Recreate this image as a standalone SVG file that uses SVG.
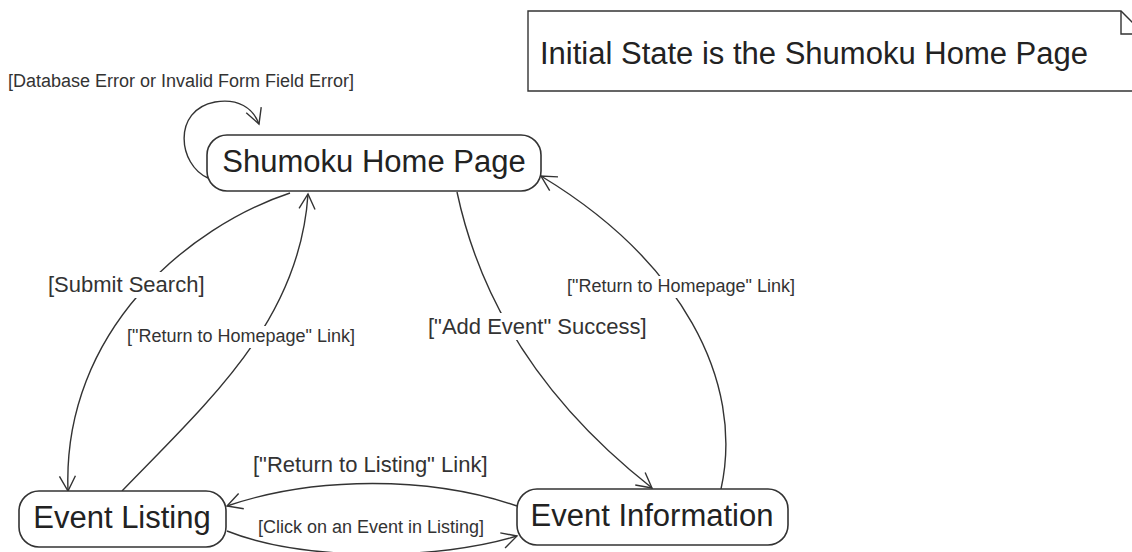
<svg xmlns="http://www.w3.org/2000/svg" width="1132" height="552" viewBox="0 0 1132 552">
<defs>
<style>
.node{fill:#fff;stroke:#333;stroke-width:1.6}
.ntext{font-family:"Liberation Sans",Arial,sans-serif;font-size:31px;fill:#222;text-anchor:middle}
.edge{fill:none;stroke:#333;stroke-width:1.4;marker-end:url(#arr)}
.lbl{font-family:"Liberation Sans",Arial,sans-serif;fill:#333}
.s18{font-size:18px}
.s22{font-size:22px}
.bg{fill:#fff}
</style>
<marker id="arr" markerUnits="userSpaceOnUse" markerWidth="18" markerHeight="18" viewBox="0 0 18 18" refX="16" refY="9" orient="auto">
<path d="M1,1 L16,9 L1,17" fill="none" stroke="#333" stroke-width="1.4"/>
</marker>
</defs>
<rect width="1132" height="552" fill="#fff"/>

<g id="note">
<path d="M528,11 H1121 L1144,34 V91 H528 Z" fill="#fff" stroke="#333" stroke-width="1.4"/>
<path d="M1121,11 V34 H1144" fill="none" stroke="#333" stroke-width="1.4"/>
<text x="540" y="64" class="lbl" style="font-size:31px;fill:#222">Initial State is the Shumoku Home Page</text>
</g>

<g id="connectors">
<path class="edge" d="M208,178 C178,165 172,110 215,102 C238,98 253,108 259,124"/>
<path class="edge" d="M290,193 C190,226 62,330 68,491"/>
<path class="edge" d="M122,491 C210,400 300,320 308,194"/>
<path class="edge" d="M517,506 C430,476 315,476 227,506"/>
<path class="edge" d="M227,531 C305,562 440,560 517,536"/>
<path class="edge" d="M457,192 C480,300 540,400 652,488"/>
<path class="edge" d="M721,489 C745,380 680,260 541,176"/>
</g>

<g id="labels">
<text x="8" y="87" class="lbl s18">[Database Error or Invalid Form Field Error]</text>
<rect class="bg" x="44" y="272" width="166" height="26"/>
<text x="48" y="292" class="lbl s22">[Submit Search]</text>
<rect class="bg" x="124" y="326" width="232" height="22"/>
<text x="127" y="342" class="lbl s18">["Return to Homepage" Link]</text>
<rect class="bg" x="424" y="313" width="226" height="27"/>
<text x="428" y="334" class="lbl s22">["Add Event" Success]</text>
<rect class="bg" x="564" y="276" width="232" height="22"/>
<text x="567" y="292" class="lbl s18">["Return to Homepage" Link]</text>
<text x="253" y="472" class="lbl s22">["Return to Listing" Link]</text>
<text x="258" y="533" class="lbl s18">[Click on an Event in Listing]</text>
</g>

<g id="home">
<rect class="node" x="207" y="135" width="334" height="56" rx="20" ry="20"/>
<text class="ntext" x="374" y="172">Shumoku Home Page</text>
</g>
<g id="listing">
<rect class="node" x="19" y="491" width="207" height="56" rx="20" ry="20"/>
<text class="ntext" x="122" y="528">Event Listing</text>
</g>
<g id="info">
<rect class="node" x="517" y="489" width="271" height="56" rx="20" ry="20"/>
<text class="ntext" x="652" y="526">Event Information</text>
</g>
</svg>
